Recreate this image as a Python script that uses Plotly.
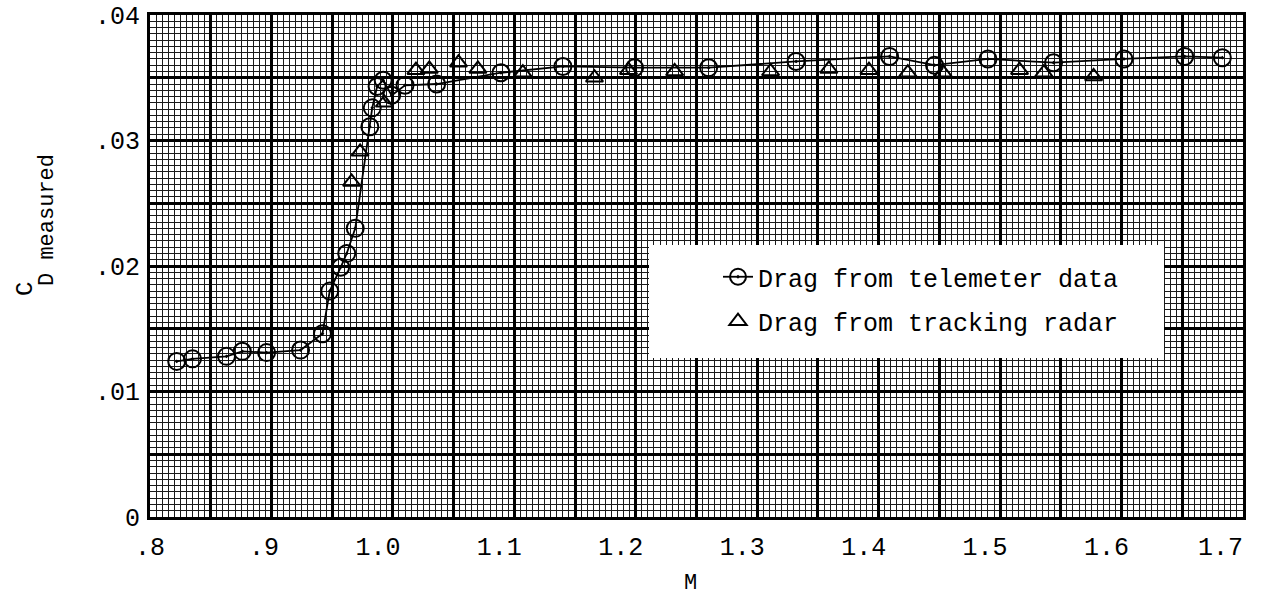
import plotly.graph_objects as go

# Telemeter data (circles, connected)
tel_M = [0.822, 0.835, 0.863, 0.876, 0.896, 0.924, 0.942, 0.948, 0.957, 0.962,
         0.969, 0.981, 0.983, 0.987, 0.992, 0.999, 1.010, 1.036, 1.089, 1.140,
         1.199, 1.260, 1.332, 1.409, 1.446, 1.490, 1.544, 1.602, 1.652, 1.683]
tel_CD = [0.0124, 0.0126, 0.0128, 0.0132, 0.0131, 0.0133, 0.0146, 0.0180, 0.0199, 0.0210,
          0.0230, 0.0311, 0.0326, 0.0343, 0.0348, 0.0336, 0.0344, 0.0345, 0.0354, 0.0359,
          0.0358, 0.0358, 0.0363, 0.0367, 0.0360, 0.0365, 0.0362, 0.0365, 0.0367, 0.0366]

# Tracking radar data (triangles)
rad_M = [0.966, 0.973, 0.993, 1.019, 1.030, 1.054, 1.070, 1.107, 1.166, 1.194,
         1.232, 1.311, 1.359, 1.392, 1.424, 1.453, 1.516, 1.536, 1.577]
rad_CD = [0.0267, 0.0291, 0.0330, 0.0356, 0.0357, 0.0362, 0.0357, 0.0354, 0.0350, 0.0356,
          0.0355, 0.0355, 0.0357, 0.0356, 0.0354, 0.0354, 0.0356, 0.0354, 0.0351]

NB = "\u00a0"
x_tickvals = [round(0.8 + 0.05 * i, 2) for i in range(19)]
x_ticktext = [NB + NB + ".8", "", NB + ".9", "", "1.0", "", "1.1", "", "1.2", "", "1.3", "", "1.4", "",
              "1.5", "", "1.6", "", "1.7" + NB]
y_tickvals = [round(0.005 * i, 3) for i in range(9)]
y_ticktext = ["0", "", ".01", "", ".02", "", ".03", "", ".04"]

FONT = "Liberation Mono, Courier New, monospace"

W, H = 1264, 603
# plot area in page pixels
PX0, PX1, PY0, PY1 = 150, 1243, 15, 517
def px(x):
    return (x - PX0) / (PX1 - PX0)
def py(y):
    return (PY1 - y) / (PY1 - PY0)

fig = go.Figure()
fig.add_trace(go.Scatter(
    x=tel_M, y=tel_CD, mode="lines+markers", name="Drag from telemeter data",
    legendgroup="tel",
    line=dict(color="black", width=1.8),
    marker=dict(symbol="circle-open-dot", size=17, color="black", line=dict(color="black", width=2)),
))
fig.add_trace(go.Scatter(
    x=rad_M, y=rad_CD, mode="markers", name="Drag from tracking radar",
    legendgroup="rad",
    marker=dict(symbol="triangle-up-open", size=15, color="black", line=dict(color="black", width=2)),
))

fig.update_layout(
    width=W, height=H,
    margin=dict(l=PX0, r=W - PX1, t=PY0, b=H - PY1, autoexpand=False),
    paper_bgcolor="white", plot_bgcolor="white",
    font=dict(family=FONT, color="black", size=22),
    showlegend=True,
    legend=dict(
        x=px(718), y=py(254), xanchor="left", yanchor="top",
        bgcolor="rgba(0,0,0,0)", borderwidth=0,
        font=dict(family=FONT, size=25, color="black"),
        tracegroupgap=9,
    ),
    xaxis=dict(
        range=[0.8, 1.7], tickmode="array", tickvals=x_tickvals, ticktext=x_ticktext,
        showgrid=True, gridcolor="black", gridwidth=2.5,
        showline=True, linecolor="black", linewidth=3, mirror=True,
        ticks="", ticklabelstandoff=5, ticklabelshift=-15, automargin=False,
        ticklabeloverflow="allow",
        tickfont=dict(family=FONT, size=25, color="black"),
        zeroline=False,
        minor=dict(tickmode="linear", tick0=0.8, dtick=0.005, showgrid=True,
                   gridcolor="#1a1a1a", gridwidth=1),
    ),
    yaxis=dict(
        range=[0, 0.04], tickmode="array", tickvals=y_tickvals, ticktext=y_ticktext,
        showgrid=True, gridcolor="black", gridwidth=2.5,
        showline=True, linecolor="black", linewidth=3, mirror=True,
        ticks="", ticklabelstandoff=2, automargin=False,
        ticklabeloverflow="allow",
        tickfont=dict(family=FONT, size=25, color="black"),
        zeroline=False,
        minor=dict(tickmode="linear", tick0=0, dtick=0.0005, showgrid=True,
                   gridcolor="#1a1a1a", gridwidth=1),
    ),
    shapes=[dict(type="rect", xref="paper", yref="paper",
                 x0=px(649), x1=px(1164), y0=py(358), y1=py(245),
                 fillcolor="white", line=dict(width=0), layer="above")],
    annotations=[
        dict(text="C", xref="paper", yref="paper", x=px(25), y=py(289),
             xanchor="center", yanchor="middle",
             showarrow=False, textangle=-90,
             font=dict(family=FONT, size=24, color="black")),
        dict(text="D measured", xref="paper", yref="paper", x=px(48), y=py(220),
             xanchor="center", yanchor="middle",
             showarrow=False, textangle=-90,
             font=dict(family=FONT, size=22, color="black")),
        dict(text="M", xref="paper", yref="paper", x=px(690), y=py(584),
             xanchor="center", yanchor="middle",
             showarrow=False, font=dict(family=FONT, size=22, color="black")),
    ],
)

fig.write_html("out.html", config={"displayModeBar": False},
               post_script="document.body.style.margin='0px';")
